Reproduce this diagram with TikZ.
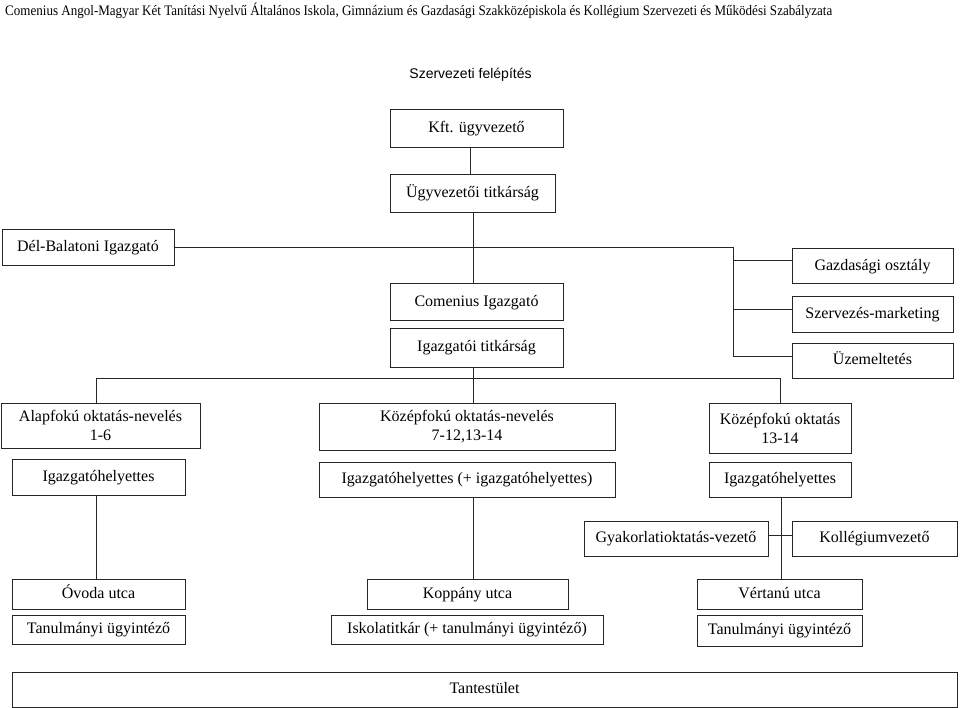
\documentclass[tikz,border=0pt]{standalone}
\usepackage{fontspec}
\setmainfont{Liberation Serif}
\newfontfamily\arialf{Liberation Sans}
\definecolor{ln}{gray}{0.15}
\begin{document}
\begin{tikzpicture}[x=1pt,y=-1pt,
  bx/.style={draw=ln,line width=1pt,inner sep=0pt,align=center,font=\fontsize{16}{19}\selectfont},
  sl/.style={bx,text height=11.5pt,text depth=3.5pt},
  conn/.style={draw=ln,line width=1pt}]
\useasboundingbox (0,0) rectangle (960,708);
\fill[white] (0,0) rectangle (960,708);
\node[anchor=west,inner sep=0pt] (hdr) at (5,10.5) {\resizebox{827pt}{\height}{\fontsize{14.5}{16}\selectfont Comenius Angol-Magyar Két Tanítási Nyelvű Általános Iskola, Gimnázium és Gazdasági Szakközépiskola és Kollégium Szervezeti és Működési Szabályzata}};
\node[inner sep=0pt,font=\arialf\fontsize{14}{16}\selectfont,text height=10pt,text depth=3pt] (title) at (470.5,75) {Szervezeti felépítés};
% boxes
\node[sl,minimum width=173,minimum height=38] (kft) at (476.5,129) {Kft. ügyvezető};
\node[sl,minimum width=165,minimum height=38] (utit) at (472.5,194) {Ügyvezetői titkárság};
\node[sl,minimum width=172,minimum height=36] (del) at (88,248) {Dél-Balatoni Igazgató};
\node[sl,minimum width=161,minimum height=35] (gaz) at (872.5,266.5) {Gazdasági osztály};
\node[sl,minimum width=161,minimum height=35] (szm) at (872.5,314.5) {Szervezés-marketing};
\node[sl,minimum width=161,minimum height=35] (uzem) at (872.5,360.5) {Üzemeltetés};
\node[sl,minimum width=173,minimum height=36] (com) at (476.5,302) {Comenius Igazgató};
\node[sl,minimum width=173,minimum height=39] (itit) at (476.5,347.5) {Igazgatói titkárság};
\node[bx,minimum width=199,minimum height=45] (alap) at (100.5,425.5) {Alapfokú oktatás-nevelés\\1-6};
\node[sl,minimum width=173,minimum height=36] (ih1) at (98.5,477) {Igazgatóhelyettes};
\node[bx,minimum width=296,minimum height=47] (koz) at (467,426.5) {Középfokú oktatás-nevelés\\7-12,13-14};
\node[sl,minimum width=296,minimum height=35] (ih2) at (467,479.5) {Igazgatóhelyettes (+ igazgatóhelyettes)};
\node[bx,minimum width=142,minimum height=50] (koz2) at (780,428) {Középfokú oktatás\\13-14};
\node[sl,minimum width=142,minimum height=35] (ih3) at (780,479.5) {Igazgatóhelyettes};
\node[sl,minimum width=184,minimum height=35] (gyak) at (676,538.5) {Gyakorlatioktatás-vezető};
\node[sl,minimum width=165,minimum height=35] (koll) at (874.5,538.5) {Kollégiumvezető};
\node[sl,minimum width=173,minimum height=30] (ovoda) at (98.5,594) {Óvoda utca};
\node[sl,minimum width=173,minimum height=29] (tan1) at (98.5,629.5) {Tanulmányi ügyintéző};
\node[sl,minimum width=201,minimum height=30] (kopp) at (467.5,594) {Koppány utca};
\node[sl,minimum width=272,minimum height=29] (isk) at (467,629.5) {Iskolatitkár (+ tanulmányi ügyintéző)};
\node[sl,minimum width=165,minimum height=30] (vert) at (779.5,594) {Vértanú utca};
\node[sl,minimum width=165,minimum height=31] (tan2) at (779.5,630.5) {Tanulmányi ügyintéző};
\node[sl,minimum width=945,minimum height=35] (tant) at (484.5,689.5) {Tantestület};
% helper coordinates
\coordinate (sp) at (473,0);
\coordinate (kx) at (470,0);
\coordinate (rb) at (733,0);
\coordinate (hb) at (0,378);
\coordinate (rs) at (781,0);
% connectors
\draw[conn] (kft.south -| kx) -- (utit.north -| kx);
\draw[conn] (utit.south -| sp) -- (com.north -| sp);
\draw[conn] (del.east) -| ([yshift=4.5pt]uzem.west -| rb) -- ([yshift=4.5pt]uzem.west);
\draw[conn] ([yshift=5.5pt]gaz.west -| rb) -- ([yshift=5.5pt]gaz.west);
\draw[conn] ([yshift=5.5pt]szm.west -| rb) -- ([yshift=5.5pt]szm.west);
\draw[conn] (itit.south -| sp) -- (koz.north -| sp);
\draw[conn] ([xshift=-4.5pt]alap.north) |- (koz2.north |- hb) -- (koz2.north);
\draw[conn] ([xshift=-2.5pt]ih1.south) -- ([xshift=-2.5pt]ovoda.north);
\draw[conn] (ih2.south -| sp) -- (kopp.north -| sp);
\draw[conn] (ih3.south -| rs) -- (vert.north -| rs);
\draw[conn] ([yshift=3.5pt]gyak.east) -- ([yshift=3.5pt]koll.west);
\end{tikzpicture}
\end{document}
